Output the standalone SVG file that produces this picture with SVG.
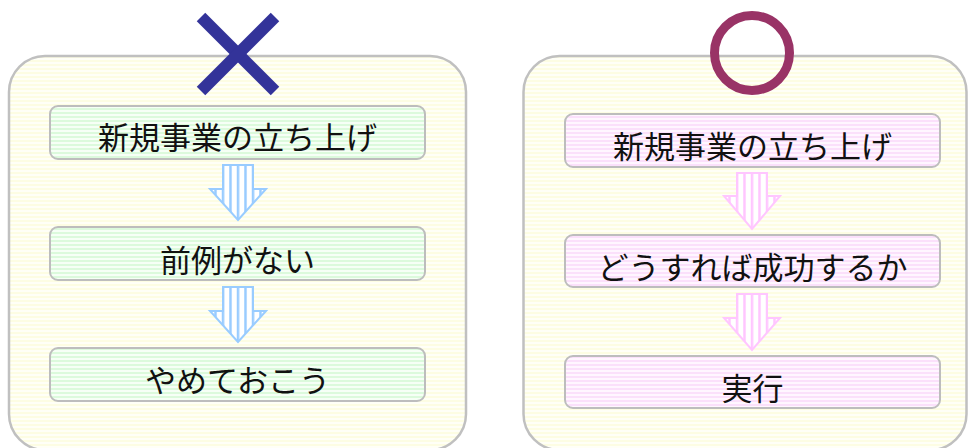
<svg xmlns="http://www.w3.org/2000/svg" width="969" height="448" viewBox="0 0 969 448">
<style>
.panel{fill:url(#pY);stroke:#c0c0c0;stroke-width:2.5}
.box{stroke:#bdbdbd;stroke-width:2}
.g{fill:url(#pG)}
.p{fill:url(#pP)}
.lbl{font-family:"Noto Sans CJK JP","Noto Sans",sans-serif;font-size:31px;fill:#111;text-anchor:middle}
.arB{fill:url(#vB);stroke:#99ccff;stroke-width:2;stroke-linejoin:miter}
.arP{fill:url(#vP);stroke:#ffc6ff;stroke-width:2;stroke-linejoin:miter}
</style>
<defs>
<pattern id="pY" width="10" height="4" patternUnits="userSpaceOnUse">
<rect width="10" height="4" fill="#fffff7"/><rect width="10" height="2" fill="#fdfde3"/>
</pattern>
<pattern id="pG" width="10" height="4" patternUnits="userSpaceOnUse">
<rect width="10" height="4" fill="#f6fff6"/><rect width="10" height="2" fill="#dcfadc"/>
</pattern>
<pattern id="pP" width="10" height="4" patternUnits="userSpaceOnUse">
<rect width="10" height="4" fill="#fff6ff"/><rect width="10" height="2" fill="#fbe0fb"/>
</pattern>
<pattern id="vB" width="7.5" height="10" patternUnits="userSpaceOnUse" x="221.75">
<rect width="7.5" height="10" fill="#ffffff"/><rect width="2.5" height="10" fill="#99ccff"/>
</pattern>
<pattern id="vP" width="7.5" height="10" patternUnits="userSpaceOnUse" x="735.75">
<rect width="7.5" height="10" fill="#ffffff"/><rect width="2.5" height="10" fill="#ffc6ff"/>
</pattern>
</defs>

<g id="panel-left">
<rect class="panel" x="9" y="56" width="457" height="394" rx="36"/>
</g>
<g id="panel-right">
<rect class="panel" x="523.5" y="56" width="443" height="394" rx="36"/>
</g>

<g id="mark-cross">
<line x1="201" y1="17" x2="275" y2="91" stroke="#333399" stroke-width="12"/>
<line x1="275" y1="17" x2="201" y2="91" stroke="#333399" stroke-width="12"/>
</g>
<g id="mark-circle">
<circle cx="752" cy="53" r="37.5" fill="none" stroke="#993366" stroke-width="9"/>
</g>

<g id="L1"><rect class="box g" x="50" y="106" width="375" height="53" rx="8"/><text class="lbl" x="237.5" y="148.5">新規事業の立ち上げ</text></g>
<g id="L2"><rect class="box g" x="50" y="227" width="375" height="53" rx="8"/><text class="lbl" x="237.5" y="272">前例がない</text></g>
<g id="L3"><rect class="box g" x="50" y="348" width="375" height="53" rx="8"/><text class="lbl" x="237.5" y="392">やめておこう</text></g>

<g id="R1"><rect class="box p" x="565" y="114" width="375" height="53" rx="8"/><text class="lbl" x="752.5" y="157.5">新規事業の立ち上げ</text></g>
<g id="R2"><rect class="box p" x="565" y="235" width="375" height="52" rx="8"/><text class="lbl" x="752.5" y="278.5">どうすれば成功するか</text></g>
<g id="R3"><rect class="box p" x="565" y="356" width="375" height="52" rx="8"/><text class="lbl" x="752.5" y="400">実行</text></g>

<g id="connectors">
<polygon class="arB" points="223,165 253,165 253,189 266,189 238,220 210,189 223,189"/>
<polygon class="arB" points="223,287 253,287 253,311 266,311 238,342 210,311 223,311"/>
<polygon class="arP" points="737,173 767,173 767,196 780,196 752,229 724,196 737,196"/>
<polygon class="arP" points="737,294 767,294 767,318 780,318 752,350 724,318 737,318"/>
</g>
</svg>
